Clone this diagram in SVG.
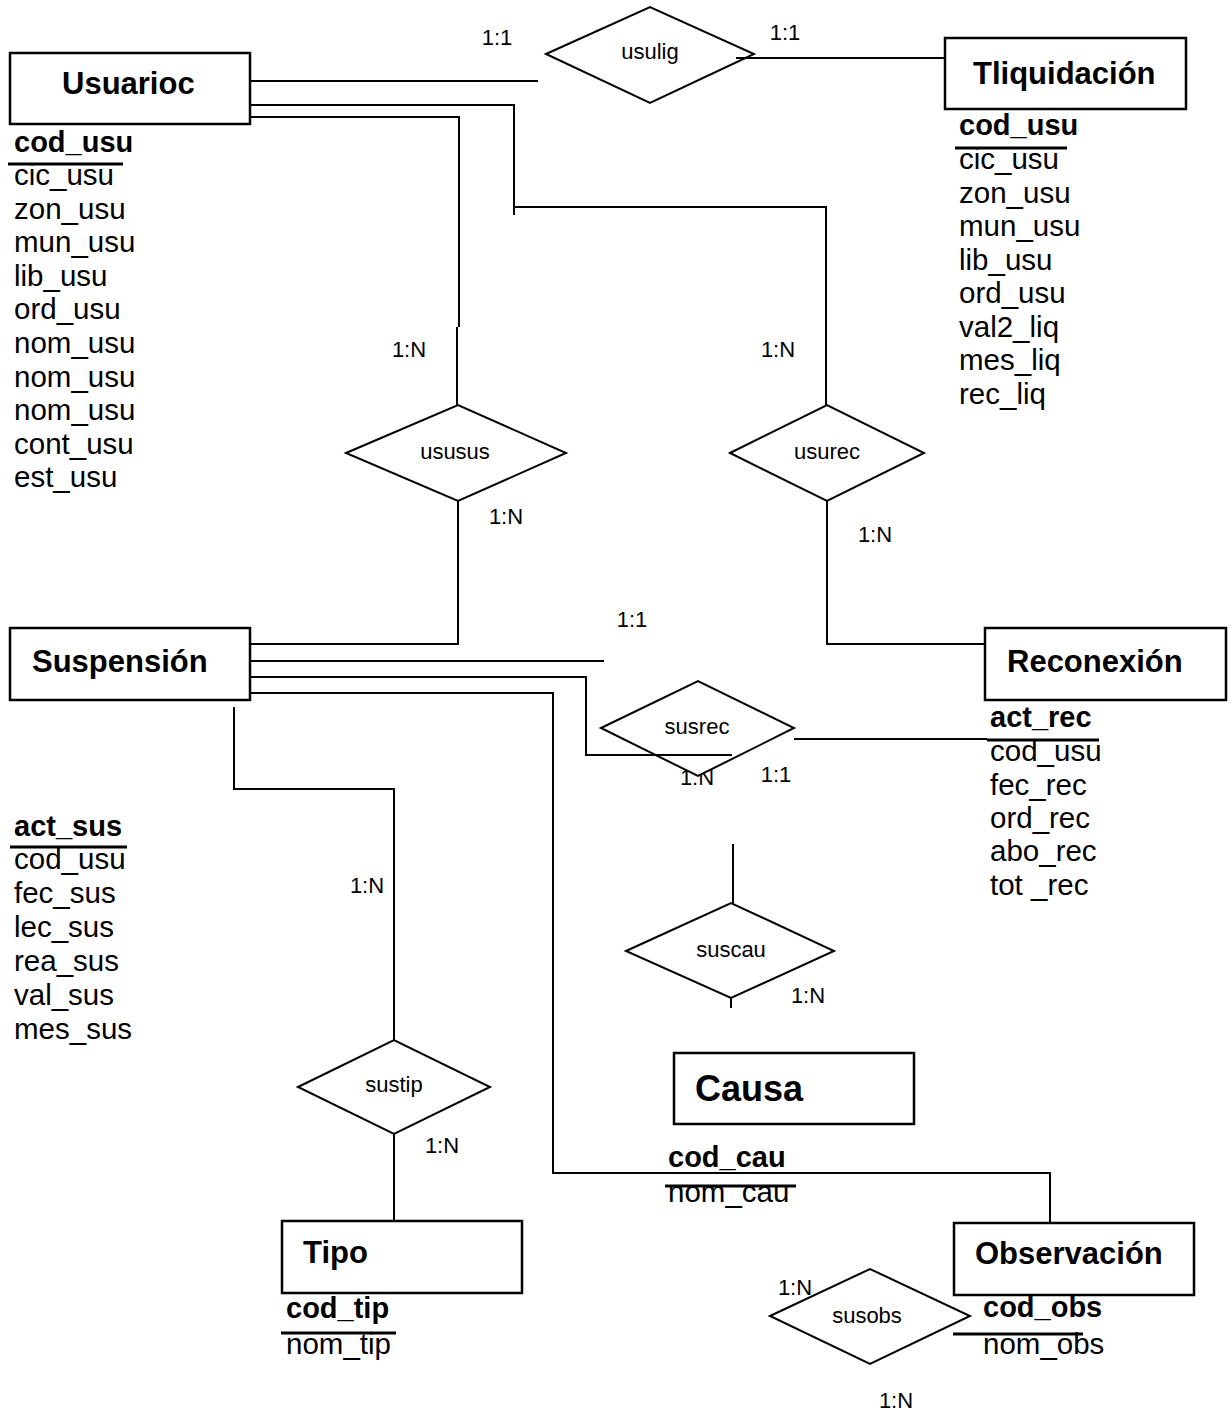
<svg xmlns="http://www.w3.org/2000/svg" width="1229" height="1414" viewBox="0 0 1229 1414">
<style>
text{font-family:"Liberation Sans",Arial,sans-serif;fill:#000}
.ent{fill:#fff;stroke:#000;stroke-width:2.5}
.rel{fill:#fff;stroke:#000;stroke-width:2}
.title{font-size:31px;font-weight:bold}
.big{font-size:36px;font-weight:bold}
.key{font-size:29px;font-weight:bold}
.attr{font-size:29.5px}
.rl{font-size:22px;text-anchor:middle}
.card{font-size:22px;text-anchor:middle}
.pk{stroke:#000;stroke-width:3}
.conn{fill:none;stroke:#000;stroke-width:2}
</style>
<rect width="1229" height="1414" fill="#fff"/>

<!-- cardinality label partly covered by the susrec diamond -->
<g id="card-behind">
<text class="card" x="697" y="785">1:N</text>
</g>

<!-- entities -->
<g id="usuarioc">
<rect class="ent" x="10" y="53" width="240" height="71"/>
<text class="title" x="62" y="94">Usuarioc</text>
<text class="key" x="14" y="152">cod_usu</text>
<line class="pk" x1="8" y1="164" x2="123" y2="164"/>
<text class="attr" x="14" y="185">cic_usu</text>
<text class="attr" x="14" y="219">zon_usu</text>
<text class="attr" x="14" y="252">mun_usu</text>
<text class="attr" x="14" y="286">lib_usu</text>
<text class="attr" x="14" y="319">ord_usu</text>
<text class="attr" x="14" y="353">nom_usu</text>
<text class="attr" x="14" y="387">nom_usu</text>
<text class="attr" x="14" y="420">nom_usu</text>
<text class="attr" x="14" y="454">cont_usu</text>
<text class="attr" x="14" y="487">est_usu</text>
</g>

<g id="tliquidacion">
<rect class="ent" x="945" y="38" width="241" height="71"/>
<text class="title" x="973" y="84">Tliquidación</text>
<text class="key" x="959" y="135">cod_usu</text>
<line class="pk" x1="955" y1="148" x2="1067" y2="148"/>
<text class="attr" x="959" y="169">cic_usu</text>
<text class="attr" x="959" y="203">zon_usu</text>
<text class="attr" x="959" y="236">mun_usu</text>
<text class="attr" x="959" y="270">lib_usu</text>
<text class="attr" x="959" y="303">ord_usu</text>
<text class="attr" x="959" y="337">val2_liq</text>
<text class="attr" x="959" y="370">mes_liq</text>
<text class="attr" x="959" y="404">rec_liq</text>
</g>

<g id="suspension">
<rect class="ent" x="10" y="628" width="240" height="72"/>
<text class="title" x="32" y="672">Suspensión</text>
<text class="key" x="14" y="836">act_sus</text>
<line class="pk" x1="10" y1="847" x2="127" y2="847"/>
<text class="attr" x="14" y="869">cod_usu</text>
<text class="attr" x="14" y="903">fec_sus</text>
<text class="attr" x="14" y="937">lec_sus</text>
<text class="attr" x="14" y="971">rea_sus</text>
<text class="attr" x="14" y="1005">val_sus</text>
<text class="attr" x="14" y="1039">mes_sus</text>
</g>

<g id="reconexion">
<rect class="ent" x="985" y="628" width="241" height="72"/>
<text class="title" x="1007" y="672">Reconexión</text>
<text class="key" x="990" y="727">act_rec</text>
<line class="pk" x1="987" y1="740" x2="1099" y2="740"/>
<text class="attr" x="990" y="761">cod_usu</text>
<text class="attr" x="990" y="795">fec_rec</text>
<text class="attr" x="990" y="828">ord_rec</text>
<text class="attr" x="990" y="861">abo_rec</text>
<text class="attr" x="990" y="895">tot _rec</text>
</g>

<g id="causa">
<rect class="ent" x="674" y="1053" width="240" height="71"/>
<text class="big" x="695" y="1101">Causa</text>
<text class="key" x="668" y="1167">cod_cau</text>
<line class="pk" x1="665" y1="1186" x2="796" y2="1186"/>
<text class="attr" x="668" y="1202">nom_cau</text>
</g>

<g id="tipo">
<rect class="ent" x="282" y="1221" width="240" height="72"/>
<text class="title" x="303" y="1263">Tipo</text>
<text class="key" x="286" y="1318">cod_tip</text>
<line class="pk" x1="281" y1="1333" x2="396" y2="1333"/>
<text class="attr" x="286" y="1354">nom_tip</text>
</g>

<g id="observacion">
<rect class="ent" x="954" y="1223" width="240" height="72"/>
<text class="title" x="975" y="1264">Observación</text>
</g>

<!-- relationships -->
<g id="usulig">
<polygon class="rel" points="546,54 650,7 754,54 650,103"/>
<text class="rl" x="650" y="59">usulig</text>
</g>
<g id="ususus">
<polygon class="rel" points="346,453 458,405 566,453 458,501"/>
<text class="rl" x="455" y="459">ususus</text>
</g>
<g id="usurec">
<polygon class="rel" points="730,453 827,405 924,453 827,501"/>
<text class="rl" x="827" y="459">usurec</text>
</g>
<g id="susrec">
<polygon class="rel" points="601,728 698,681 794,728 698,776"/>
<text class="rl" x="697" y="734">susrec</text>
</g>
<g id="suscau">
<polygon class="rel" points="626,951 731,903 834,951 731,998"/>
<text class="rl" x="731" y="957">suscau</text>
</g>
<g id="sustip">
<polygon class="rel" points="298,1087 394,1040 490,1087 394,1134"/>
<text class="rl" x="394" y="1092">sustip</text>
</g>
<g id="susobs">
<polygon class="rel" points="770,1316 870,1269 970,1316 870,1364"/>
<text class="rl" x="867" y="1323">susobs</text>
</g>

<!-- Observación key drawn over the susobs tip -->
<g id="observacion-attrs">
<text class="key" x="983" y="1317">cod_obs</text>
<line class="pk" x1="953" y1="1334" x2="1083" y2="1334"/>
<text class="attr" x="983" y="1354">nom_obs</text>
</g>

<!-- connectors -->
<g id="connectors" class="conn">
<path d="M250 81 H538"/>
<path d="M736 58 H945"/>
<path d="M250 105 H514 V215 M514 207 H826 V405"/>
<path d="M250 117 H459 V327 M457 327 V405"/>
<path d="M458 501 V644 H250"/>
<path d="M827 501 V644 H985"/>
<path d="M250 661 H604"/>
<path d="M250 677 H586 V755 H732"/>
<path d="M250 693 H553 V1173 H1050 V1223"/>
<path d="M234 707 V789 H394 V1040"/>
<path d="M394 1134 V1221"/>
<path d="M794 739 H987"/>
<path d="M733 844 V903"/>
<path d="M731 998 V1008"/>
</g>

<!-- cardinalities -->
<g id="cardinalities">
<text class="card" x="497" y="45">1:1</text>
<text class="card" x="785" y="40">1:1</text>
<text class="card" x="409" y="357">1:N</text>
<text class="card" x="778" y="357">1:N</text>
<text class="card" x="506" y="524">1:N</text>
<text class="card" x="875" y="542">1:N</text>
<text class="card" x="632" y="627">1:1</text>
<text class="card" x="776" y="782">1:1</text>
<text class="card" x="367" y="893">1:N</text>
<text class="card" x="808" y="1003">1:N</text>
<text class="card" x="442" y="1153">1:N</text>
<text class="card" x="795" y="1295">1:N</text>
<text class="card" x="896" y="1408">1:N</text>
</g>
</svg>
